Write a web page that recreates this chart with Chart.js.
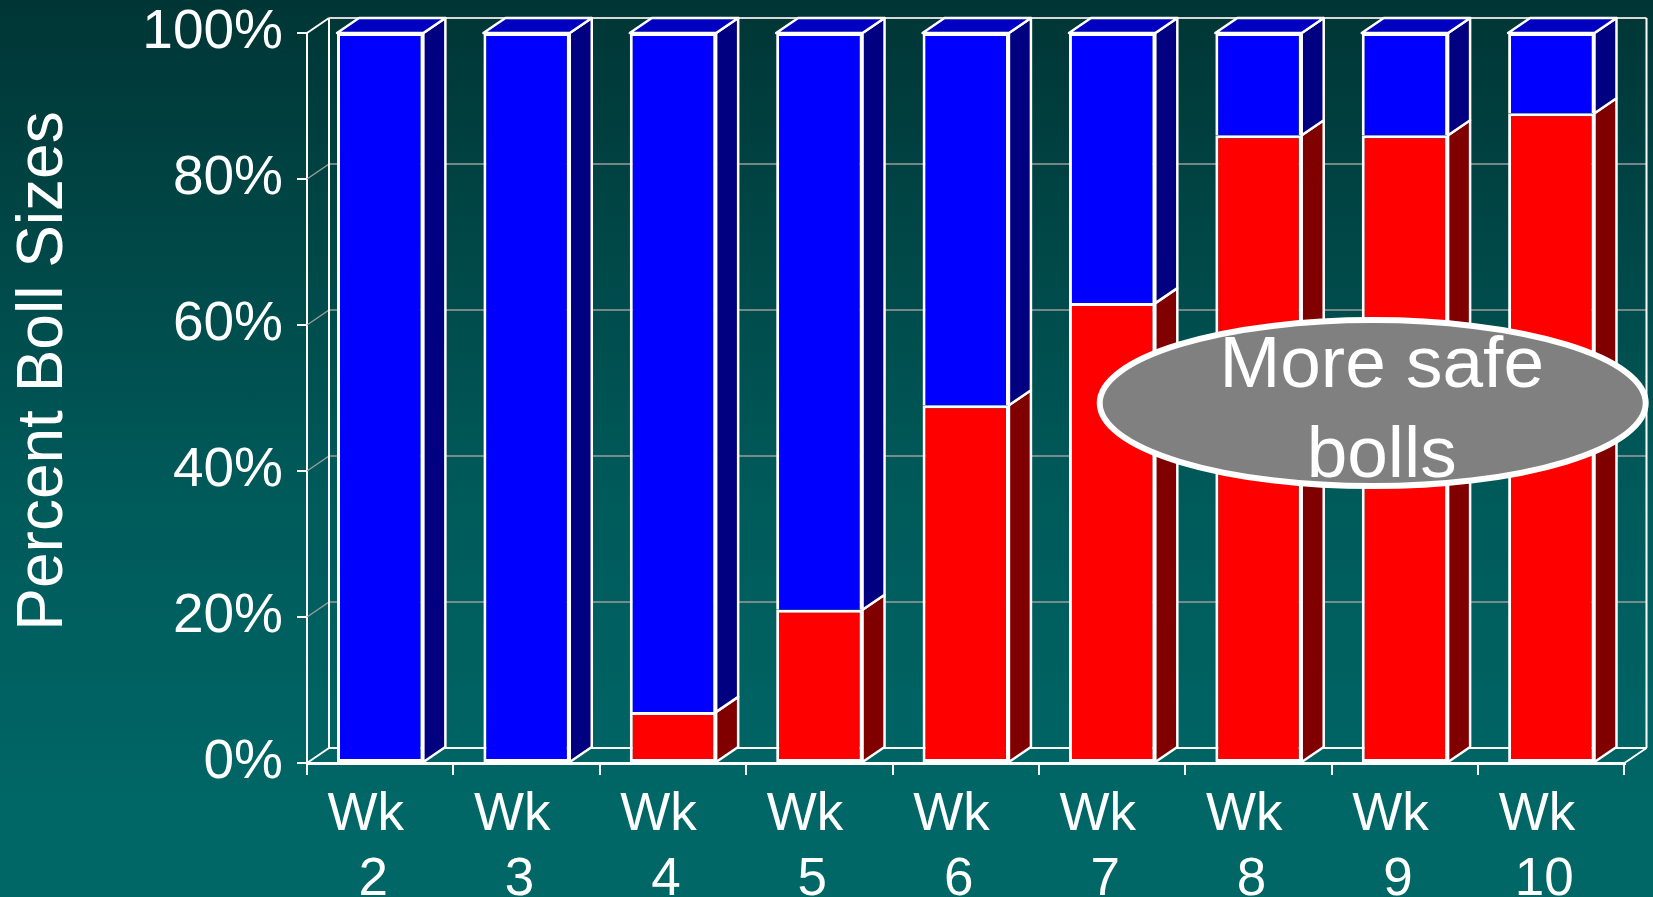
<!DOCTYPE html>
<html>
<head>
<meta charset="utf-8">
<title>Percent Boll Sizes</title>
<script src="https://cdn.jsdelivr.net/npm/chart.js@4.4.1/dist/chart.umd.min.js"></script>
<style>
  html, body { margin: 0; padding: 0; }
  body {
    width: 1653px;
    height: 897px;
    overflow: hidden;
    background: linear-gradient(to bottom, #003535 0%, #005a5a 55%, #006666 90%, #006666 100%);
  }
  #wrap { position: relative; width: 1653px; height: 897px; }
</style>
</head>
<body>
<div id="wrap"><canvas id="boll-chart"></canvas></div>
<script>
// data
const weeks = [["Wk ", "2"], ["Wk ", "3"], ["Wk ", "4"], ["Wk ", "5"], ["Wk ", "6"],
    ["Wk ", "7"], ["Wk ", "8"], ["Wk ", "9"], ["Wk ", "10"]];
const safeBolls = [0, 0, 7, 21, 49, 63, 86, 86, 89];
const unsafeBolls = [100, 100, 93, 79, 51, 37, 14, 14, 11];
const percentTicks = [0, 20, 40, 60, 80, 100];
const calloutText = ["More safe", "bolls"];

const fontFamily = '"Liberation Sans", Arial, Helvetica, sans-serif';
Chart.defaults.font.family = fontFamily;
Chart.defaults.color = '#ffffff';

// 3d depth of the plot box
const depthX = 22;
const depthY = -15;

function face(ctx, pts, fill) {
    ctx.beginPath();
    ctx.moveTo(pts[0][0], pts[0][1]);
    for (let i = 1; i < pts.length; i++) ctx.lineTo(pts[i][0], pts[i][1]);
    ctx.closePath();
    ctx.fillStyle = fill;
    ctx.fill();
    ctx.stroke();
}

// back wall, left wall and floor lines + bar sides/tops
const box3d = {
    id: 'box3d',
    beforeDatasetsDraw(chart) {
        const { ctx, chartArea: a, scales: { y } } = chart;
        ctx.save();
        percentTicks.forEach(v => {
            const py = y.getPixelForValue(v);
            const edge = v === percentTicks[0] || v === percentTicks[percentTicks.length - 1];
            ctx.lineWidth = edge ? 2 : 1.5;
            ctx.strokeStyle = edge ? '#ffffff' : '#9c9c9c';
            ctx.beginPath();
            ctx.moveTo(a.left, py);
            ctx.lineTo(a.left + depthX, py + depthY);
            ctx.stroke();
            ctx.strokeStyle = v === 0 ? '#ffffff' : (edge ? '#d8d8d8' : '#9c9c9c');
            ctx.beginPath();
            ctx.moveTo(a.left + depthX, py + depthY);
            ctx.lineTo(a.right + depthX, py + depthY);
            ctx.stroke();
        });
        ctx.strokeStyle = '#ffffff';
        ctx.lineWidth = 2;
        ctx.beginPath();
        ctx.moveTo(a.left + depthX, a.top + depthY);
        ctx.lineTo(a.left + depthX, a.bottom + depthY);
        ctx.moveTo(a.right + depthX, a.top + depthY);
        ctx.lineTo(a.right + depthX, a.bottom + depthY);
        ctx.moveTo(a.right, a.bottom);
        ctx.lineTo(a.right + depthX, a.bottom + depthY);
        ctx.stroke();
        ctx.restore();
    },
    afterDatasetsDraw(chart) {
        const ctx = chart.ctx;
        const sets = chart.data.datasets;
        ctx.save();
        ctx.strokeStyle = '#ffffff';
        ctx.lineWidth = 2.5;
        ctx.lineJoin = 'round';
        sets.forEach((ds, i) => {
            chart.getDatasetMeta(i).data.forEach((bar, j) => {
                if (!ds.data[j]) return;
                const { x, y, base, width } = bar.getProps(['x', 'y', 'base', 'width'], true);
                const l = x - width / 2;
                const r = x + width / 2;
                face(ctx, [[r, y], [r + depthX, y + depthY], [r + depthX, base + depthY], [r, base]], ds.sideColor);
                const above = sets.slice(i + 1).some(d => d.data[j] > 0);
                if (!above) {
                    face(ctx, [[l, y], [l + depthX, y + depthY], [r + depthX, y + depthY], [r, y]], ds.topColor);
                }
            });
        });
        ctx.restore();
    }
};

// rotated y title
const yTitle = {
    id: 'yTitle',
    afterDraw(chart) {
        const ctx = chart.ctx;
        ctx.save();
        ctx.translate(62, 371);
        ctx.rotate(-Math.PI / 2);
        ctx.fillStyle = '#ffffff';
        ctx.font = '64px ' + fontFamily;
        ctx.textAlign = 'center';
        ctx.textBaseline = 'alphabetic';
        ctx.fillText('Percent Boll Sizes', 0, 0);
        ctx.restore();
    }
};

// grey ellipse call-out
const callout = {
    id: 'callout',
    afterDraw(chart) {
        const { ctx, scales: { x, y } } = chart;
        const cx = x.getPixelForValue(6.78);
        const cy = y.getPixelForValue(49.3);
        ctx.save();
        ctx.beginPath();
        ctx.ellipse(cx, cy, 273, 83, 0, 0, Math.PI * 2);
        ctx.fillStyle = '#808080';
        ctx.fill();
        ctx.lineWidth = 6;
        ctx.strokeStyle = '#ffffff';
        ctx.stroke();
        ctx.fillStyle = '#ffffff';
        ctx.font = '73px ' + fontFamily;
        ctx.textAlign = 'center';
        ctx.textBaseline = 'alphabetic';
        calloutText.forEach((line, k) => ctx.fillText(line, cx + 9, cy - 16 + k * 90));
        ctx.restore();
    }
};

const bollCanvas = document.getElementById("boll-chart");
const bollData = {
    labels: weeks,
    datasets: [{
        label: 'Safe bolls',
        data: safeBolls,
        backgroundColor: '#ff0000',
        sideColor: '#800000',
        topColor: '#c00000',
        borderColor: '#ffffff',
        borderWidth: c => safeBolls[c.dataIndex] > 0 ? 3 : 0,
        borderSkipped: false
    }, {
        label: 'Other bolls',
        data: unsafeBolls,
        backgroundColor: '#0000ff',
        sideColor: '#000080',
        topColor: '#0000c0',
        borderColor: '#ffffff',
        borderWidth: c => ({ top: 3, left: 3, right: 3, bottom: safeBolls[c.dataIndex] > 0 ? 0 : 3 }),
        borderSkipped: false
    }]
};

const bollOptions = {
    responsive: true,
    maintainAspectRatio: false,
    devicePixelRatio: 1,
    animation: false,
    datasets: {
        bar: { categoryPercentage: 1, barPercentage: 0.59 }
    },
    layout: {
        padding: { top: 33, right: 28.5, left: 0, bottom: 0 }
    },
    scales: {
        x: {
            stacked: true,
            grid: {
                offset: true,
                drawOnChartArea: false,
                drawTicks: true,
                tickLength: 12,
                color: '#ffffff',
                lineWidth: 2
            },
            border: { display: true, color: '#ffffff', width: 3 },
            ticks: {
                color: '#ffffff',
                font: { size: 53, lineHeight: 1.23 },
                padding: 8,
                labelOffset: -7,
                maxRotation: 0,
                autoSkip: false
            },
            afterFit(scale) { scale.height = 134; }
        },
        y: {
            stacked: true,
            min: 0,
            max: 100,
            grid: {
                drawOnChartArea: false,
                drawTicks: true,
                tickLength: 10,
                color: '#ffffff',
                lineWidth: 2
            },
            border: { display: true, color: '#ffffff', width: 2 },
            ticks: {
                stepSize: 20,
                color: '#ffffff',
                font: { size: 55, lineHeight: 0.6 },
                padding: 14,
                callback: v => v + '%'
            },
            afterFit(scale) { scale.width = 307; }
        }
    },
    plugins: {
        legend: { display: false },
        tooltip: { enabled: false }
    }
};

let bollChart = new Chart(bollCanvas, {
    type: 'bar',
    data: bollData,
    options: bollOptions,
    plugins: [box3d, yTitle, callout]
});
</script>
</body>
</html>
